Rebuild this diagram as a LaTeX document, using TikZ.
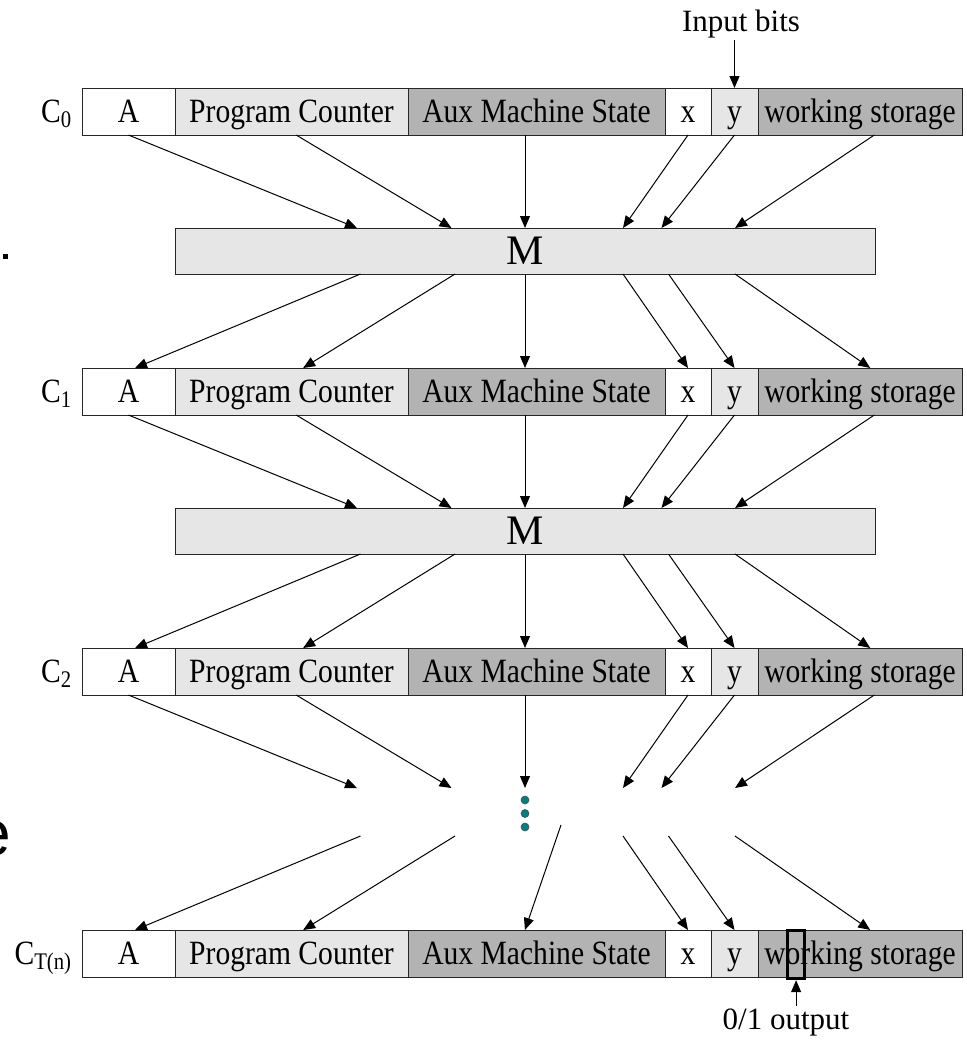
\documentclass[tikz,border=0pt]{standalone}
\usepackage{fontspec}
\setmainfont{Liberation Serif}
\newfontfamily\slidesans{Liberation Sans}
\usetikzlibrary{positioning,calc,arrows.meta}
\definecolor{pcgray}{HTML}{E6E6E6}
\definecolor{auxgray}{HTML}{B3B3B3}
\definecolor{dotteal}{HTML}{008080}
\newcommand{\narrowtxt}[1]{\scalebox{0.87}[1]{#1}}
\tikzset{
  cell/.style={draw=black!85, line width=0.5pt, outer sep=0pt, inner sep=0pt,
    minimum height=47*0.5pt, text height=11.2pt, text depth=0pt,
    font=\fontsize{17}{20}\selectfont},
  mbox/.style={draw=black!85, fill=pcgray, line width=0.5pt, outer sep=0pt, inner sep=0pt,
    minimum width=700*0.5pt, minimum height=46*0.5pt, anchor=north west,
    text height=13.5pt, text depth=0pt, font=\fontsize{21}{24}\selectfont},
  lbl/.style={inner sep=1pt, font=\fontsize{15.5}{18}\selectfont},
  arr/.style={-{Triangle[length=6pt,width=5pt]}, line width=0.5pt},
  dotc/.style={circle, fill=dotteal, draw=black!70, line width=0.3pt, minimum size=4pt, inner sep=0pt},
}
\begin{document}
\begin{tikzpicture}[x=0.5pt,y=-0.5pt]
\useasboundingbox (0,0) rectangle (966,1040);
% bits of the slide behind
\fill (3,254) rectangle (7.5,259);
\begin{scope}
  \clip (0,0) rectangle (966,1040);
  \node[inner sep=0pt, anchor=base east, font=\fontsize{32}{32}\slidesans] (slidee) at (11,855) {e};
\end{scope}

% configurations
\foreach \r/\yy/\lab in {0/88/0,1/368/1,2/648/2,3/930/{T(n)}}{
  \node[cell, anchor=north west, minimum width=93*0.5pt] (A\r) at (82,\yy) {\narrowtxt{A}};
  \node[cell, fill=pcgray, minimum width=233*0.5pt, right=0pt of A\r] (PC\r) {\narrowtxt{Program Counter}};
  \node[cell, fill=auxgray, minimum width=257*0.5pt, right=0pt of PC\r] (AS\r) {\narrowtxt{Aux Machine State}};
  \node[cell, minimum width=46*0.5pt, right=0pt of AS\r] (X\r) {\narrowtxt{x}};
  \node[cell, fill=pcgray, minimum width=47*0.5pt, right=0pt of X\r] (Y\r) {\narrowtxt{y}};
  \node[cell, fill=auxgray, minimum width=204*0.5pt, right=0pt of Y\r] (WS\r) {\narrowtxt{working storage}};
  \node[cell, draw=none, left=5pt of A\r] (C\r) {\narrowtxt{C\textsubscript{\lab}}};
}

% machine steps
\node[mbox] (M1) at (175,228) {M};
\node[mbox] (M2) at (175,508) {M};
\node[minimum width=700*0.5pt, minimum height=48*0.5pt, anchor=north west, inner sep=0pt, outer sep=0pt] (M3) at (175,788) {};
\coordinate (gapaux) at (561,825);
\foreach \k in {0,1,2}
  \node[dotc] (dot\k) at (525,800+13.5*\k) {};

% into the machine
\foreach \r/\m in {0/1,1/2,2/3}{
  \draw[arr] (A\r.south) -- ($(M\m.north west)!0.26!(M\m.north east)$);
  \draw[arr] ($(PC\r.south west)!0.52!(PC\r.south east)$) -- ($(M\m.north west)!0.395!(M\m.north east)$);
  \draw[arr] (AS\r.south -| M\m.north) -- (M\m.north);
  \draw[arr] (X\r.south) -- ($(M\m.north west)!0.64!(M\m.north east)$);
  \draw[arr] (Y\r.south) -- ($(M\m.north west)!0.695!(M\m.north east)$);
  \draw[arr] ($(WS\r.south west)!0.57!(WS\r.south east)$) -- ($(M\m.north west)!0.80!(M\m.north east)$);
}

% out of the machine
\foreach \m in {1,2,3}{
  \draw[arr] ($(M\m.south west)!0.265!(M\m.south east)$) -- ($(A\m.north west)!0.57!(A\m.north east)$);
  \draw[arr] ($(M\m.south west)!0.40!(M\m.south east)$) -- ($(PC\m.north west)!0.55!(PC\m.north east)$);
  \draw[arr] ($(M\m.south west)!0.64!(M\m.south east)$) -- (X\m.north);
  \draw[arr] ($(M\m.south west)!0.705!(M\m.south east)$) -- (Y\m.north);
  \draw[arr] ($(M\m.south west)!0.80!(M\m.south east)$) -- ($(WS\m.north west)!0.55!(WS\m.north east)$);
}
\draw[arr] (M1.south) -- (AS1.north -| M1.south);
\draw[arr] (M2.south) -- (AS2.north -| M2.south);
\draw[arr] (gapaux) -- ($(AS3.north west)!0.455!(AS3.north east)$);

% input and output
\node[lbl] (inp) at (741,24) {Input bits};
\draw[arr] (inp.south -| Y0.north) -- (Y0.north);
\node[draw, line width=1.6pt, minimum width=17*0.5pt, minimum height=48*0.5pt, inner sep=0pt, anchor=north west] (obit) at (786,929) {};
\node[lbl] (outlbl) at (786,1022) {0/1 output};
\draw[arr] (obit.south |- outlbl.north) -- (obit.south);
\end{tikzpicture}
\end{document}
